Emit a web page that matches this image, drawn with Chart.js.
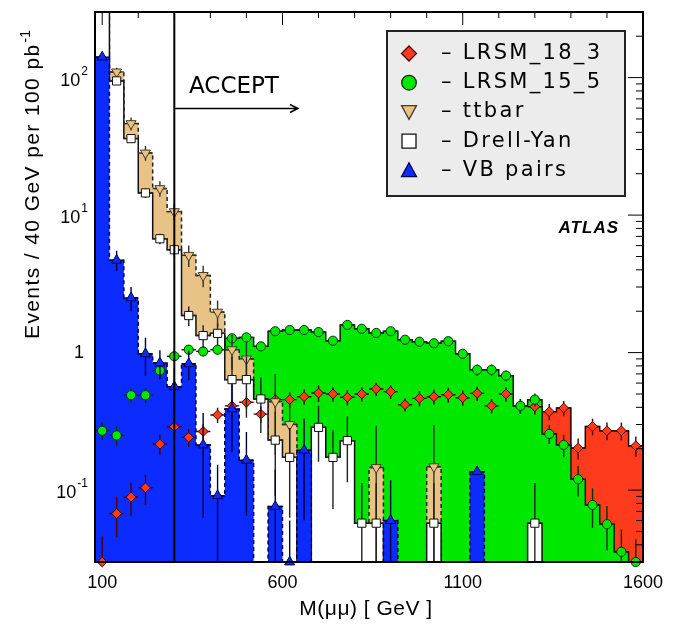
<!DOCTYPE html>
<html>
<head>
<meta charset="UTF-8">
<title>M(mumu) - LRSM signal and backgrounds</title>
<script src="https://cdn.jsdelivr.net/npm/chart.js@4"></script>
<style>
  body { margin: 0; background: #fff; }
  #wrap { width: 680px; height: 625px; }
</style>
</head>
<body>
<div id="wrap"><canvas id="chart" width="680" height="625"></canvas></div>
<script>
// bin centres, 40 GeV bins from 80 to 1600 GeV
const binCenters = [100,140,180,220,260,300,340,380,420,460,500,540,580,620,660,700,740,780,820,860,
                    900,940,980,1020,1060,1100,1140,1180,1220,1260,1300,1340,1380,1420,1460,1500,1540,1580];
const binHalf = 20;

// events / 40 GeV per 100 pb-1 (0 = empty bin)
const lrsm18 = [0.03,0.0675,0.089,0.104,0.216,0.289,0.242,0.267,0.352,0.41,0.435,0.357,0.455,0.455,0.478,0.508,0.50,0.473,0.50,0.544,
                0.52,0.418,0.465,0.478,0.494,0.47,0.505,0.41,0.50,0.41,0.404,0.372,0.395,0.202,0.29,0.27,0.27,0.21];
const lrsm15 = [0.27,0.25,0.49,0.49,0.74,0.94,1.05,1.02,1.05,1.27,1.29,1.11,1.43,1.46,1.46,1.41,1.22,1.59,1.49,1.39,
                1.43,1.24,1.20,1.17,1.21,0.98,0.75,0.75,0.68,0.41,0.455,0.256,0.213,0.12,0.078,0.0565,0.0356,0.03];
const ttbar = [1000,110,46.3,28.3,15.6,10.6,5.1,3.64,1.97,1.05,0.9,0,0.44,0.30,0,0,0,0,0,0.146,
               0,0,0,0.148,0,0,0,0,0,0,0,0,0,0,0,0,0,0];
const drellYan = [2000,94.6,36,14.5,6.73,5.6,1.86,1.33,1.38,0.636,0.636,0.46,0.231,0.173,0,0.286,0.173,0.229,0.0575,0.0575,
                  0,0,0,0.0575,0,0,0,0,0,0,0.0575,0,0,0,0,0,0,0];
const vbPairs = [141,4.7,2.5,0.98,0.84,0.565,0.83,0.213,0.091,0.389,0.165,0,0.076,0.03,0.195,0,0,0,0,0,
                 0.06,0,0,0,0,0,0.136,0,0,0,0,0,0,0,0,0,0,0];

// statistical errors
const lrsm18Err = [0.016,0.022,0.024,0.026,0.037,0.034,0.036,0.034,0.045,0.045,0.045,0.05,0.06,0.06,0.06,0.07,0.06,0.06,0.06,0.06,
                   0.06,0.045,0.06,0.06,0.06,0.06,0.06,0.05,0.06,0.05,0.05,0.05,0.05,0.035,0.04,0.04,0.04,0.035];
const lrsm15Err = [0.04,0.04,0.06,0.06,0.1,0.08,0.08,0.08,0.08,0.08,0.08,0.08,0.08,0.08,0.08,0.08,0.08,0.08,0.08,0.08,
                   0.08,0.08,0.08,0.08,0.08,0.07,0.07,0.07,0.06,0.05,0.05,0.04,0.04,0.03,0.025,0.02,0.016,0.014];
const ttbarErr = [0,8,5,3.5,2,1.4,0.9,0.65,0.42,0.3,0.3,0,0.26,0.12,0,0,0,0,0,0.148,
                  0,0,0,0.15,0,0,0,0,0,0,0,0,0,0,0,0,0,0];
const drellYanErr = [0,3,2,1.2,0.6,0.6,0.3,0.25,0.25,0.3,0.3,0.2,0.14,0.11,0,0.125,0.1,0.115,0.055,0.055,
                     0,0,0,0.055,0,0,0,0,0,0,0.055,0,0,0,0,0,0,0];
const vbPairsErr = [5,0.8,0.5,0.3,0.2,0.2,0.2,0.15,0.062,0.2,0.1,0,0.065,0.03,0.135,0,0,0,0,0,
                    0.058,0,0,0,0,0,0,0,0,0,0,0,0,0,0,0,0,0];

const seriesNames = ['LRSM_18_3', 'LRSM_15_5', 'ttbar', 'Drell-Yan', 'VB pairs'];

// axes
const xMajorTicks = [100, 600, 1100, 1600];
const xMinorTicks = [100,200,300,400,500,600,700,800,900,1000,1100,1200,1300,1400,1500,1600];
const yDecades = [0.1, 1, 10, 100];
const yDecadeLabels = [['10', '-1'], ['1', ''], ['10', '1'], ['10', '2']];
const acceptCut = 300;

const OFF_SCALE = 1e-4;

const styles = {
    red:   { fill: '#ff3b1e', line: '#1a0000', dash: [], marker: 'rectRot', r: 4.9, edge: '#4a0000', err: '#4a0000' },
    green: { fill: '#00e800', line: '#062006', dash: [], marker: 'circle', r: 4.6, edge: '#0a300a', err: '#0a300a' },
    tt:    { fill: '#e9c285', line: '#222222', dash: [4, 3], marker: 'triangle', rot: 180, r: 5.8, edge: '#4a3a20', err: '#333333' },
    dy:    { fill: '#ffffff', line: '#111111', dash: [], marker: 'rect', r: 5.8, edge: '#111111', err: '#222222' },
    vb:    { fill: '#0c2cff', line: '#000033', dash: [4, 3], marker: 'triangle', r: 5.8, edge: '#00004a', err: '#000040' }
};

function histDataset(values, s, order) {
    const pts = values.map((v, i) => ({ x: binCenters[i] - binHalf, y: v > 0 ? v : OFF_SCALE }));
    pts.push({ x: binCenters[binCenters.length - 1] + binHalf, y: pts[pts.length - 1].y });
    return {
        type: 'line', data: pts, stepped: true, fill: 'start',
        backgroundColor: s.fill, borderColor: s.line, borderWidth: 1.5, borderDash: s.dash,
        pointRadius: 0, order: order, clip: 0
    };
}

function markerDataset(values, errs, s, order) {
    const pts = [];
    values.forEach((v, i) => { if (v > 0) pts.push({ x: binCenters[i], y: v, e: errs[i] }); });
    return {
        type: 'line', showLine: false, data: pts,
        pointStyle: s.marker, pointRadius: s.r, pointRotation: s.rot || 0,
        pointBackgroundColor: s.fill, pointBorderColor: s.edge, pointBorderWidth: 1,
        errColor: s.err, order: order, clip: { left: 8, top: 0, right: 8, bottom: 8 }
    };
}

// error bars (x = bin width, y = stat error) under each marker set
const errorBars = {
    id: 'errorBars',
    beforeDatasetDraw(chart, args) {
        const ds = chart.data.datasets[args.index];
        if (!ds.errColor) return;
        const { ctx, chartArea: a } = chart;
        const xs = chart.scales.x, ys = chart.scales.y;
        ctx.save();
        ctx.beginPath();
        ctx.rect(a.left, a.top, a.right - a.left, a.bottom - a.top);
        ctx.clip();
        ctx.strokeStyle = ds.errColor;
        ctx.lineWidth = 1.4;
        ds.data.forEach(p => {
            const px = xs.getPixelForValue(p.x), py = ys.getPixelForValue(p.y);
            ctx.beginPath();
            ctx.moveTo(xs.getPixelForValue(p.x - binHalf), py);
            ctx.lineTo(xs.getPixelForValue(p.x + binHalf), py);
            if (p.e > 0) {
                const lo = p.y - p.e > 0 ? ys.getPixelForValue(p.y - p.e) : a.bottom;
                ctx.moveTo(px, ys.getPixelForValue(p.y + p.e));
                ctx.lineTo(px, Math.min(lo, a.bottom));
            }
            ctx.stroke();
        });
        ctx.restore();
    }
};

function drawMarker(ctx, s, x, y, size) {
    ctx.save();
    ctx.fillStyle = s.fill;
    ctx.strokeStyle = s.edge;
    ctx.lineWidth = 1.3;
    ctx.beginPath();
    if (s.marker === 'rectRot') {
        ctx.moveTo(x, y - size); ctx.lineTo(x + size, y); ctx.lineTo(x, y + size); ctx.lineTo(x - size, y);
        ctx.closePath();
    } else if (s.marker === 'circle') {
        ctx.arc(x, y, size, 0, Math.PI * 2);
    } else if (s.marker === 'rect') {
        ctx.rect(x - size, y - size, size * 2, size * 2);
    } else if (s.marker === 'triangle') {
        const d = s.rot === 180 ? -1 : 1;
        ctx.moveTo(x, y - d * size); ctx.lineTo(x + size, y + d * size * 0.85); ctx.lineTo(x - size, y + d * size * 0.85);
        ctx.closePath();
    }
    ctx.fill();
    ctx.stroke();
    ctx.restore();
}

function logTicks(ys, fn) {
    yDecades.concat([0.01]).forEach(d => {
        for (let m = 1; m <= 9; m++) {
            const v = d * m;
            if (v < ys.min || v > ys.max) continue;
            fn(ys.getPixelForValue(v), m === 1);
        }
    });
}

const decor = {
    id: 'decor',
    beforeDatasetsDraw(chart) {
        // bottom and left ticks sit under the histograms
        const { ctx, chartArea: a } = chart;
        const xs = chart.scales.x, ys = chart.scales.y;
        ctx.save();
        ctx.strokeStyle = '#000';
        ctx.lineWidth = 1;
        ctx.beginPath();
        xMinorTicks.forEach(v => {
            const px = xs.getPixelForValue(v);
            const len = xMajorTicks.includes(v) ? 13 : 6;
            ctx.moveTo(px, a.bottom); ctx.lineTo(px, a.bottom - len);
        });
        logTicks(ys, (py, major) => { ctx.moveTo(a.left, py); ctx.lineTo(a.left + (major ? 15 : 7), py); });
        ctx.stroke();
        ctx.restore();
    },
    afterDatasetsDraw(chart) {
        const { ctx, chartArea: a } = chart;
        const xs = chart.scales.x, ys = chart.scales.y;
        ctx.save();

        // accept cut
        const cx = xs.getPixelForValue(acceptCut);
        ctx.strokeStyle = '#000';
        ctx.lineWidth = 2;
        ctx.beginPath();
        ctx.moveTo(cx, a.top); ctx.lineTo(cx, a.bottom);
        ctx.stroke();
        ctx.lineWidth = 1.4;
        ctx.beginPath();
        ctx.moveTo(cx, 108.5); ctx.lineTo(298, 108.5);
        ctx.moveTo(290, 104.5); ctx.lineTo(298, 108.5); ctx.lineTo(290, 112.5);
        ctx.stroke();
        ctx.fillStyle = '#000';
        ctx.font = '23px "DejaVu Sans"';
        ctx.textAlign = 'left';
        ctx.textBaseline = 'middle';
        ctx.fillText('ACCEPT', 189, 87);

        // ticks on top and right
        ctx.lineWidth = 1;
        ctx.beginPath();
        xMinorTicks.forEach(v => {
            const px = xs.getPixelForValue(v);
            const len = xMajorTicks.includes(v) ? 13 : 6;
            ctx.moveTo(px, a.top); ctx.lineTo(px, a.top + len);
        });
        logTicks(ys, (py, major) => { ctx.moveTo(a.right, py); ctx.lineTo(a.right - (major ? 15 : 7), py); });
        ctx.stroke();

        // frame
        ctx.lineWidth = 2;
        ctx.strokeRect(a.left, a.top, a.right - a.left, a.bottom - a.top);

        // tick labels
        ctx.fillStyle = '#000';
        ctx.font = '18px "Liberation Sans"';
        ctx.textAlign = 'center';
        ctx.textBaseline = 'middle';
        xMajorTicks.forEach(v => ctx.fillText(String(v), xs.getPixelForValue(v), 583));
        yDecades.forEach((d, i) => {
            const py = ys.getPixelForValue(d);
            const [base, exp] = yDecadeLabels[i];
            ctx.textAlign = 'right';
            if (exp) {
                ctx.font = '12px "Liberation Sans"';
                const ew = ctx.measureText(exp).width;
                ctx.fillText(exp, 88, py - 6);
                ctx.font = '18px "Liberation Sans"';
                ctx.fillText(base, 88 - ew - 1, py + 3);
            } else {
                ctx.font = '18px "Liberation Sans"';
                ctx.fillText(base, 84, py);
            }
        });

        // axis titles
        ctx.font = '21px "Liberation Sans"';
        ctx.textAlign = 'center';
        ctx.letterSpacing = '0.5px';
        ctx.fillText('M(\u03bc\u03bc) [ GeV ]', 366, 609);
        ctx.save();
        ctx.translate(33, 30);
        ctx.rotate(-Math.PI / 2);
        ctx.textAlign = 'right';
        ctx.font = '14px "Liberation Sans"';
        ctx.letterSpacing = '0px';
        const supW = ctx.measureText('-1').width;
        ctx.fillText('-1', 0, -7);
        ctx.font = '21px "Liberation Sans"';
        ctx.letterSpacing = '1.4px';
        ctx.fillText('Events / 40 GeV per 100 pb', -supW - 1, 0);
        ctx.restore();
        ctx.letterSpacing = '0px';

        // ATLAS
        ctx.font = 'italic bold 17px "Liberation Sans"';
        ctx.letterSpacing = '1px';
        ctx.textAlign = 'right';
        ctx.fillText('ATLAS', 619, 228);
        ctx.letterSpacing = '0px';

        // legend
        ctx.fillStyle = '#ececec';
        ctx.fillRect(387, 31, 238, 165);
        ctx.strokeStyle = '#222';
        ctx.lineWidth = 2;
        ctx.strokeRect(387, 31, 238, 165);
        const legStyles = [styles.red, styles.green, styles.tt, styles.dy, styles.vb];
        const legSize = [7.5, 7.3, 7.5, 7, 7.5];
        seriesNames.forEach((name, i) => {
            const ly = 53.5 + i * 29.2;
            drawMarker(ctx, legStyles[i], 409, ly, legSize[i]);
            ctx.fillStyle = '#000';
            ctx.font = '21px "DejaVu Sans"';
            ctx.letterSpacing = '2.3px';
            ctx.textAlign = 'left';
            ctx.textBaseline = 'middle';
            ctx.fillText('\u2013 ' + name, 441, ly);
            ctx.letterSpacing = '0px';
        });
        ctx.restore();
    }
};

new Chart(document.getElementById('chart').getContext('2d'), {
    type: 'line',
    data: {
        datasets: [
            histDataset(lrsm18, styles.red, 10),
            histDataset(lrsm15, styles.green, 9),
            histDataset(ttbar, styles.tt, 8),
            histDataset(drellYan, styles.dy, 7),
            histDataset(vbPairs, styles.vb, 6),
            markerDataset(lrsm18, lrsm18Err, styles.red, 5),
            markerDataset(lrsm15, lrsm15Err, styles.green, 4),
            markerDataset(ttbar, ttbarErr, styles.tt, 3),
            markerDataset(drellYan, drellYanErr, styles.dy, 2),
            markerDataset(vbPairs, vbPairsErr, styles.vb, 1)
        ]
    },
    options: {
        responsive: false,
        animation: false,
        devicePixelRatio: 1,
        events: [],
        layout: { padding: { left: 95, right: 37, top: 12, bottom: 63 } },
        scales: {
            x: { type: 'linear', min: 80, max: 1600, display: false },
            y: { type: 'logarithmic', min: 0.03, max: 300, display: false }
        },
        plugins: { legend: { display: false }, tooltip: { enabled: false } }
    },
    plugins: [errorBars, decor]
});
</script>
</body>
</html>
